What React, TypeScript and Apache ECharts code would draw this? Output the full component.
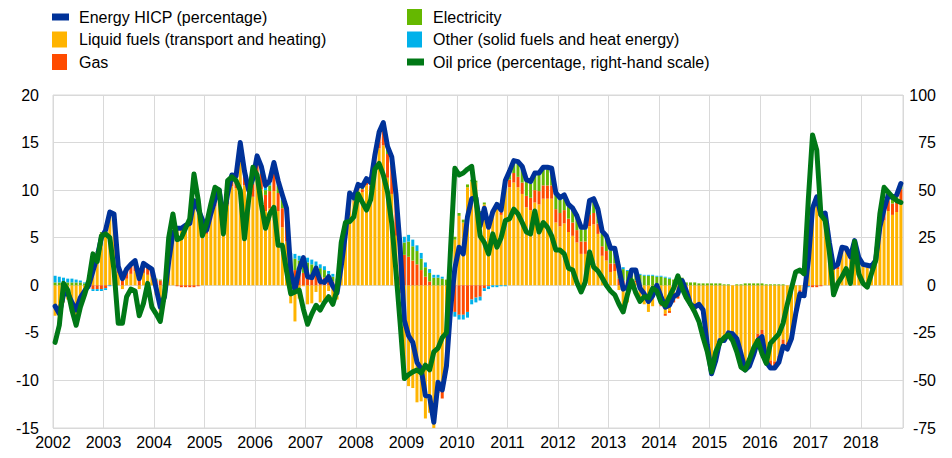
import React, { useEffect, useRef } from "react";
import * as echarts from "echarts";

// Monthly data, Jan 2002 - Oct 2018 (202 months)
const START_YEAR = 2002;

// Energy HICP, annual % change
const energyHICP = [
  -2.2, -3.0, -1.0, -0.8, -1.8, -2.6, -1.3, -0.6, 0.0, 1.5, 3.0, 5.0,
  5.8, 7.7, 7.5, 2.0, 0.7, 1.7, 2.2, 2.6, 0.7, 2.3, 2.0, 1.7,
  -0.3, -2.3, -1.2, 2.5, 5.5, 6.0, 6.0, 6.3, 6.5, 8.9, 8.0, 6.9,
  5.8, 7.5, 9.0, 10.0, 7.0, 9.6, 11.6, 11.5, 15.0, 12.0, 10.0, 11.2,
  13.6, 12.5, 10.5, 11.0, 12.9, 11.0, 9.5, 8.1, 1.5, -0.5, 1.7, 2.9,
  0.9, 0.8, 1.8, 0.4, 0.3, 0.9, -0.1, -0.8, 2.0, 5.4, 9.7, 9.2,
  10.6, 10.4, 11.2, 10.8, 13.7, 16.1, 17.1, 14.6, 13.5, 9.6, 4.0, -3.7,
  -5.3, -6.0, -8.1, -8.8, -11.6, -11.7, -14.4, -10.2, -11.0, -8.5, -2.4, 1.8,
  4.0, 3.3, 7.2, 9.1, 9.2, 6.2, 8.1, 6.1, 7.7, 8.5, 7.9, 11.0,
  12.0, 13.1, 13.0, 12.5, 11.1, 10.9, 11.8, 11.8, 12.4, 12.4, 12.3, 9.7,
  9.2, 9.5, 8.5, 8.1, 7.3, 6.1, 6.1, 8.9, 9.1, 8.0, 5.7, 5.2,
  3.9, 3.9, 1.7, -0.4, -0.2, 1.6, 1.6, -0.3, -0.9, -1.7, -1.1, 0.0,
  -1.2, -2.3, -2.1, -1.2, -0.9, 0.5, -0.6, -2.0, -2.3, -2.0, -2.6, -6.3,
  -9.3, -7.9, -5.8, -5.8, -5.0, -5.1, -5.6, -7.2, -8.9, -8.5, -7.3, -5.8,
  -5.4, -8.1, -8.7, -8.7, -8.1, -6.4, -6.7, -5.6, -3.0, -0.9, -1.1, 2.6,
  8.1, 9.3, 7.4, 7.6, 4.5, 1.9, 2.2, 4.0, 3.9, 3.0, 4.7, 2.9,
  2.2, 2.1, 2.0, 2.6, 6.1, 8.0, 9.5, 9.2, 9.5, 10.7,
];

// Contributions (percentage points)
const liquidFuels = [
  -3.2, -3.9, -1.8, -1.5, -2.5, -3.2, -1.8, -0.8, 0.2, 2.0, 3.5, 5.5,
  6.2, 7.7, 7.1, 1.3, -0.4, 0.7, 1.2, 1.5, -0.4, 1.3, 1.1, 0.9,
  -1.0, -2.9, -1.7, 2.2, 5.4, 6.0, 6.1, 6.4, 6.6, 9.0, 8.0, 6.8,
  5.4, 6.9, 8.3, 9.2, 6.0, 8.5, 10.4, 10.2, 13.6, 10.5, 8.2, 9.3,
  11.5, 10.1, 7.8, 8.1, 9.9, 7.8, 6.1, 4.6, -1.9, -3.8, -1.4, -0.1,
  -2.0, -1.9, -0.7, -1.8, -1.7, -0.6, -1.3, -1.5, 1.5, 5.1, 9.4, 8.8,
  10.1, 9.8, 10.5, 10.0, 12.6, 14.4, 14.7, 11.3, 9.6, 5.2, -0.8, -8.8,
  -10.6, -10.8, -12.3, -12.2, -14.0, -13.4, -15.2, -10.5, -10.7, -7.5, -0.3, 4.8,
  7.3, 6.6, 10.3, 10.9, 10.8, 7.6, 8.5, 6.3, 7.7, 8.4, 7.4, 10.2,
  10.3, 10.8, 10.3, 9.6, 8.2, 7.9, 8.7, 8.5, 9.1, 9.1, 9.1, 6.6,
  6.2, 6.5, 5.6, 5.2, 4.5, 3.3, 3.3, 6.2, 6.4, 5.4, 3.1, 2.6,
  1.4, 1.5, -0.5, -2.3, -1.8, 0.2, 0.3, -1.5, -2.0, -2.8, -2.2, -0.9,
  -2.1, -3.0, -2.7, -1.5, -1.1, 0.4, -0.7, -2.1, -2.5, -2.1, -2.7, -6.4,
  -9.4, -8.0, -5.9, -5.8, -5.0, -5.0, -5.5, -7.1, -8.8, -8.3, -6.8, -5.1,
  -4.7, -7.3, -7.9, -8.0, -7.4, -5.7, -6.0, -5.0, -2.4, -0.5, -0.8, 2.8,
  8.3, 9.5, 7.5, 7.6, 4.4, 1.6, 1.7, 3.5, 3.5, 2.7, 4.4, 2.7,
  2.0, 1.9, 1.7, 2.2, 5.4, 6.8, 7.8, 7.4, 7.7, 8.9,
];

const gas = [
  0.0, 0.0, 0.0, 0.0, 0.0, 0.0, 0.0, -0.1, -0.3, -0.4, -0.4, -0.4,
  -0.3, 0.0, 0.3, 0.6, 1.0, 0.9, 0.9, 1.0, 1.0, 0.9, 0.8, 0.7,
  0.6, 0.5, 0.4, 0.2, 0.0, -0.1, -0.2, -0.2, -0.2, -0.2, -0.1, 0.0,
  0.3, 0.5, 0.6, 0.7, 0.8, 0.8, 0.9, 1.0, 1.1, 1.2, 1.3, 1.4,
  1.5, 1.6, 1.7, 1.8, 1.8, 1.9, 2.0, 2.0, 1.8, 1.6, 1.4, 1.3,
  1.2, 1.1, 1.0, 0.9, 0.8, 0.6, 0.4, 0.2, 0.1, 0.0, 0.0, 0.1,
  0.2, 0.3, 0.4, 0.5, 0.7, 1.2, 1.8, 2.5, 3.0, 3.2, 3.3, 3.2,
  3.0, 2.6, 2.2, 1.6, 0.9, 0.4, -0.3, -0.8, -1.2, -1.6, -2.2, -2.8,
  -3.1, -3.1, -2.8, -1.5, -1.3, -1.2, -0.3, -0.1, 0.0, 0.1, 0.3, 0.5,
  0.8, 1.0, 1.1, 1.2, 1.2, 1.3, 1.3, 1.4, 1.4, 1.4, 1.4, 1.4,
  1.4, 1.4, 1.4, 1.4, 1.3, 1.3, 1.3, 1.2, 1.2, 1.1, 1.0, 1.0,
  0.9, 0.8, 0.7, 0.5, 0.4, 0.3, 0.2, 0.1, 0.0, 0.0, 0.0, -0.1,
  -0.1, -0.2, -0.2, -0.3, -0.3, -0.3, -0.2, -0.2, -0.1, -0.1, -0.1, -0.1,
  -0.1, -0.1, -0.1, -0.1, -0.1, -0.1, -0.2, -0.2, -0.3, -0.4, -0.7, -0.9,
  -0.9, -0.9, -0.9, -0.8, -0.8, -0.8, -0.7, -0.6, -0.5, -0.3, -0.2, -0.1,
  -0.2, -0.2, -0.1, 0.0, 0.1, 0.2, 0.3, 0.3, 0.3, 0.2, 0.2, 0.1,
  0.1, 0.1, 0.2, 0.3, 0.5, 0.8, 1.1, 1.2, 1.2, 1.2,
];

const electricity = [
  0.3, 0.3, 0.3, 0.3, 0.3, 0.3, 0.3, 0.2, 0.2, 0.1, 0.1, 0.1,
  0.1, 0.1, 0.1, 0.1, 0.1, 0.1, 0.1, 0.1, 0.1, 0.1, 0.1, 0.1,
  0.1, 0.1, 0.1, 0.1, 0.1, 0.1, 0.1, 0.1, 0.1, 0.1, 0.1, 0.1,
  0.1, 0.1, 0.1, 0.1, 0.1, 0.2, 0.2, 0.2, 0.2, 0.2, 0.3, 0.3,
  0.3, 0.4, 0.5, 0.6, 0.7, 0.8, 0.9, 1.0, 1.1, 1.2, 1.2, 1.2,
  1.2, 1.1, 1.0, 0.9, 0.8, 0.6, 0.5, 0.3, 0.2, 0.2, 0.2, 0.2,
  0.2, 0.2, 0.2, 0.2, 0.3, 0.3, 0.4, 0.5, 0.6, 0.8, 1.0, 1.3,
  1.6, 1.5, 1.4, 1.2, 1.0, 0.9, 0.8, 0.8, 0.7, 0.6, 0.4, 0.3,
  0.3, 0.3, 0.3, 0.2, 0.2, 0.2, 0.2, 0.2, 0.2, 0.2, 0.3, 0.4,
  0.8, 1.2, 1.4, 1.5, 1.5, 1.5, 1.6, 1.7, 1.7, 1.7, 1.6, 1.5,
  1.4, 1.4, 1.3, 1.3, 1.3, 1.3, 1.3, 1.3, 1.3, 1.3, 1.4, 1.4,
  1.4, 1.4, 1.3, 1.2, 1.1, 1.0, 1.0, 1.0, 1.0, 1.0, 1.0, 0.9,
  0.9, 0.8, 0.7, 0.6, 0.5, 0.4, 0.3, 0.3, 0.3, 0.2, 0.2, 0.2,
  0.2, 0.2, 0.2, 0.1, 0.1, 0.0, 0.1, 0.1, 0.2, 0.2, 0.2, 0.2,
  0.2, 0.1, 0.1, 0.1, 0.1, 0.1, 0.0, 0.0, 0.0, 0.0, 0.0, 0.0,
  0.0, 0.0, 0.0, 0.0, 0.0, 0.1, 0.2, 0.2, 0.1, 0.1, 0.1, 0.1,
  0.1, 0.1, 0.1, 0.1, 0.2, 0.4, 0.6, 0.6, 0.6, 0.6,
];

const otherEnergy = [
  0.7, 0.6, 0.5, 0.4, 0.4, 0.3, 0.2, 0.1, -0.1, -0.2, -0.2, -0.2,
  -0.2, -0.1, 0.0, 0.0, 0.0, 0.0, 0.0, 0.0, 0.0, 0.0, 0.0, 0.0,
  0.0, 0.0, 0.0, 0.0, 0.0, 0.0, 0.0, 0.0, 0.0, 0.0, 0.0, 0.0,
  0.0, 0.0, 0.0, 0.0, 0.1, 0.1, 0.1, 0.1, 0.1, 0.1, 0.2, 0.2,
  0.3, 0.4, 0.5, 0.5, 0.5, 0.5, 0.5, 0.5, 0.5, 0.5, 0.5, 0.5,
  0.5, 0.5, 0.5, 0.4, 0.4, 0.3, 0.3, 0.2, 0.2, 0.1, 0.1, 0.1,
  0.1, 0.1, 0.1, 0.1, 0.1, 0.2, 0.2, 0.3, 0.3, 0.4, 0.5, 0.6,
  0.7, 0.7, 0.6, 0.6, 0.5, 0.4, 0.3, 0.3, 0.2, 0.0, -0.3, -0.5,
  -0.5, -0.5, -0.6, -0.5, -0.5, -0.4, -0.3, -0.3, -0.2, -0.2, -0.1, -0.1,
  0.1, 0.1, 0.2, 0.2, 0.2, 0.2, 0.2, 0.2, 0.2, 0.2, 0.2, 0.2,
  0.2, 0.2, 0.2, 0.2, 0.2, 0.2, 0.2, 0.2, 0.2, 0.2, 0.2, 0.2,
  0.2, 0.2, 0.2, 0.2, 0.1, 0.1, 0.1, 0.1, 0.1, 0.1, 0.1, 0.1,
  0.1, 0.1, 0.1, 0.0, 0.0, 0.0, 0.0, 0.0, 0.0, 0.0, 0.0, 0.0,
  0.0, 0.0, 0.0, 0.0, 0.0, 0.0, 0.0, 0.0, 0.0, 0.0, 0.0, 0.0,
  0.0, 0.0, 0.0, 0.0, 0.0, 0.0, 0.0, 0.0, -0.1, -0.1, -0.1, -0.1,
  0.0, 0.0, 0.0, 0.0, 0.0, 0.0, 0.0, 0.0, 0.0, 0.0, 0.0, 0.0,
  0.0, 0.0, 0.0, 0.0, 0.0, 0.0, 0.0, 0.0, 0.0, 0.0,
];

// Oil price, annual % change (right-hand scale)
const oilPrice = [
  -30, -21, 1, -2.5, -13, -21, -11.5, -5, 2.5, 16.5, 12.5, 26,
  27, 25, 8, -20, -20, -6, -2, -3, -16, -9.5, 1, -11.5,
  -15, -19, -4.5, 25, 37.5, 24, 25, 30, 35, 58.5, 45, 26,
  32.5, 42.5, 51.5, 50, 27, 55, 57, 55, 50, 24.5, 45, 62,
  58, 42.5, 30, 37.5, 41, 21, 21, 7.5, -4.5, -3.5, -2.5, -12.5,
  -20.5, -15, -10.5, -13, -9, -6, -10, -2.5, 22.5, 33, 33.5, 36,
  48, 43.75, 39.5, 45, 61, 64, 58, 49, 32.5, 7.5, -20, -49,
  -47, -45.5, -44.5, -46, -42, -44.5, -35, -33, -27.5, -25, 20, 61.5,
  58, 59, 61, 62.5, 45, 26, 22.5, 16.5, 27, 20, 25, 34,
  35, 40, 37.5, 33, 28, 27, 39, 28, 33, 30.5, 26, 18.5,
  18.5, 16.5, 9, 8, 1.5, -3.5, 1.75, 17.5, 9.5, 7.5, 4, 0,
  -3, -5, -10, -14, -5, 2.5, -4, -8.5, -6, -6.5, -1.5, -3,
  -9, -10.5, -6, -1.5, 5, -1.5, -6.5, -10, -14, -19, -27.5, -35,
  -45.5, -35, -30, -27.5, -26, -29, -35, -43, -44.5, -39, -33, -29,
  -36, -41, -30.5, -28, -25.5, -20, -10, -1.5, 7, 8, 6, 45,
  79, 71, 37, 34, 17.5, -5, 1, 4.5, 8.75, 1, 23, 6,
  1, -1, 6, 13, 37.5, 51.5, 49, 46.5, 44.5, 43.5,
];

const LEFT_MIN = -15;
const LEFT_MAX = 20;
const LEFT_STEP = 5;
const RIGHT_MIN = -75;
const RIGHT_MAX = 100;
const RIGHT_STEP = 25;

const COLORS = {
  hicp: "#003299",
  liquid: "#FFB400",
  gas: "#FF4B00",
  elec: "#65B800",
  other: "#00B1EA",
  oil: "#007816",
};

const NAMES = {
  hicp: "Energy HICP (percentage)",
  liquid: "Liquid fuels (transport and heating)",
  gas: "Gas",
  elec: "Electricity",
  other: "Other (solid fuels and heat energy)",
  oil: "Oil price (percentage, right-hand scale)",
};

const FONT = '"Liberation Sans", Arial, Helvetica, sans-serif';

function monthLabels(n: number) {
  const out: string[] = [];
  for (let i = 0; i < n; i++) {
    const y = START_YEAR + Math.floor(i / 12);
    const m = (i % 12) + 1;
    out.push(`${y}-${m < 10 ? "0" + m : m}`);
  }
  return out;
}

function buildLegend() {
  const items = [
    { key: "hicp", kind: "line", col: 0, row: 0 },
    { key: "liquid", kind: "box", col: 0, row: 1 },
    { key: "gas", kind: "box", col: 0, row: 2 },
    { key: "elec", kind: "box", col: 1, row: 0 },
    { key: "other", kind: "box", col: 1, row: 1 },
    { key: "oil", kind: "line", col: 1, row: 2 },
  ];
  const colX = [52, 407];
  const textX = [79, 433];
  const rowY = [17, 39.5, 62];
  const els: any[] = [];
  items.forEach((it) => {
    const k = it.key as keyof typeof COLORS;
    const cy = rowY[it.row];
    const x0 = colX[it.col];
    if (it.kind === "line") {
      els.push({
        type: "rect",
        shape: { x: x0, y: cy - 3.5, width: 17, height: 7 },
        style: { fill: COLORS[k] },
        silent: true,
      });
    } else {
      els.push({
        type: "rect",
        shape: { x: x0, y: cy - 8, width: 15, height: 16 },
        style: { fill: COLORS[k] },
        silent: true,
      });
    }
    els.push({
      type: "text",
      x: textX[it.col],
      y: cy,
      style: {
        text: NAMES[k],
        font: `16px ${FONT}`,
        fill: "#000",
        verticalAlign: "middle",
        textVerticalAlign: "middle",
        align: "left",
      },
      silent: true,
    });
  });
  return els;
}

export default function App() {
  const ref = useRef<HTMLDivElement>(null);

  useEffect(() => {
    if (!ref.current) return;
    const chart = echarts.init(ref.current, undefined, { renderer: "svg" });
    const n = energyHICP.length;
    const categories = monthLabels(n);
    const barSeries = (key: keyof typeof COLORS, data: number[]) => ({
      type: "bar",
      name: NAMES[key],
      stack: "energy",
      data: data,
      barWidth: 3,
      itemStyle: { color: COLORS[key] },
      xAxisIndex: 0,
      yAxisIndex: 0,
      z: 2,
    });
    const option: any = {
      animation: false,
      textStyle: { fontFamily: FONT },
      grid: {
        left: 53,
        right: 49,
        top: 95,
        bottom: 30,
        show: true,
        borderColor: "#d9d9d9",
        borderWidth: 1,
        backgroundColor: "transparent",
      },
      xAxis: [
        {
          type: "category",
          data: categories,
          boundaryGap: true,
          axisLine: { show: false },
          axisTick: { show: false },
          axisLabel: { show: false },
          splitLine: {
            show: true,
            interval: (idx: number) => idx % 12 === 0,
            lineStyle: { color: "#d9d9d9", width: 1 },
          },
        },
        {
          type: "value",
          position: "bottom",
          min: START_YEAR,
          max: START_YEAR + n / 12,
          interval: 1,
          axisLine: { show: false },
          axisTick: { show: false },
          splitLine: { show: false },
          axisLabel: {
            fontSize: 16,
            color: "#000",
            fontFamily: FONT,
            margin: 6,
            showMaxLabel: false,
            formatter: (v: number) =>
              Math.abs(v - Math.round(v)) < 1e-6 ? String(Math.round(v)) : "",
          },
        },
      ],
      yAxis: [
        {
          type: "value",
          position: "left",
          min: LEFT_MIN,
          max: LEFT_MAX,
          interval: LEFT_STEP,
          axisLine: { show: false },
          axisTick: { show: false },
          splitLine: { show: true, lineStyle: { color: "#d9d9d9", width: 1 } },
          axisLabel: { fontSize: 16, color: "#000", fontFamily: FONT, margin: 14 },
        },
        {
          type: "value",
          position: "right",
          min: RIGHT_MIN,
          max: RIGHT_MAX,
          interval: RIGHT_STEP,
          axisLine: { show: false },
          axisTick: { show: false },
          splitLine: { show: false },
          axisLabel: {
            fontSize: 16,
            color: "#000",
            fontFamily: FONT,
            margin: 33,
            align: "right",
          },
        },
      ],
      graphic: buildLegend(),
      series: [
        barSeries("liquid", liquidFuels),
        barSeries("gas", gas),
        barSeries("elec", electricity),
        barSeries("other", otherEnergy),
        {
          type: "line",
          name: NAMES.hicp,
          data: energyHICP,
          xAxisIndex: 0,
          yAxisIndex: 0,
          symbol: "none",
          showSymbol: false,
          lineStyle: { color: COLORS.hicp, width: 5, join: "round", cap: "round" },
          z: 3,
        },
        {
          type: "line",
          name: NAMES.oil,
          data: oilPrice,
          xAxisIndex: 0,
          yAxisIndex: 1,
          symbol: "none",
          showSymbol: false,
          lineStyle: { color: COLORS.oil, width: 5, join: "round", cap: "round" },
          z: 4,
        },
      ],
    };
    chart.setOption(option);
    return () => {
      chart.dispose();
    };
  }, []);

  return (
    <div
      ref={ref}
      style={{ position: "fixed", left: 0, top: 0, width: 952, height: 458, background: "#fff" }}
    />
  );
}
